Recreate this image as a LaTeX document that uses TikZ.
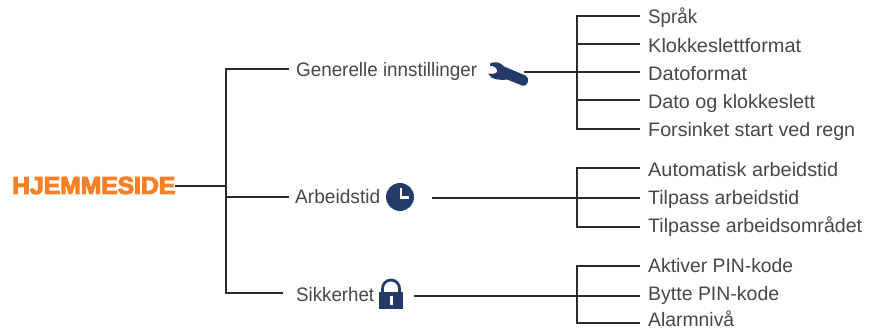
\documentclass[tikz,border=0pt]{standalone}
\usepackage{fontspec}
\setmainfont{Liberation Sans}
\newfontfamily\heavyfont[FakeBold=4.5]{Liberation Sans Bold}
\newcommand{\fitwide}[2]{\resizebox{#1pt}{\height}{#2}}
\definecolor{ink}{HTML}{47474A}
\definecolor{wire}{HTML}{2B2B2B}
\definecolor{navy}{HTML}{243A69}
\definecolor{brand}{HTML}{F58025}
\tikzset{
  label/.style={anchor=base west,inner sep=0pt,text=ink,font=\fontsize{19.5}{22}\selectfont},
  wire/.style={draw=wire,line width=1.4pt},
  icon/.style={fill=navy,draw=none},
}
\begin{document}
\begin{tikzpicture}[x=1pt,y=-1pt]
\useasboundingbox (0,0) rectangle (872,329);
% root
\node[anchor=west,inner sep=0pt,text=brand] (root) at (12,185.5)
  {\resizebox{163pt}{17pt}{\heavyfont HJEMMESIDE}};
% second level
\node[label] (gen) at (296,77) {\fitwide{181}{Generelle innstillinger}};
\node[label] (arb) at (295,203.5) {\fitwide{85}{Arbeidstid}};
\node[label] (sik) at (296,301.5) {\fitwide{78}{Sikkerhet}};
% leaves
\node[label] (a1) at (648,24) {\fitwide{49}{Språk}};
\node[label] (a2) at (648,52.5) {\fitwide{153}{Klokkeslettformat}};
\node[label] (a3) at (648,80.5) {\fitwide{99}{Datoformat}};
\node[label] (a4) at (648,108.5) {\fitwide{167}{Dato og klokkeslett}};
\node[label] (a5) at (648,136) {\fitwide{207}{Forsinket start ved regn}};
\node[label] (b1) at (648,176.5) {\fitwide{190}{Automatisk arbeidstid}};
\node[label] (b2) at (648,204.5) {\fitwide{151}{Tilpass arbeidstid}};
\node[label] (b3) at (648,232.5) {\fitwide{214}{Tilpasse arbeidsområdet}};
\node[label] (c1) at (648,272.5) {\fitwide{145}{Aktiver PIN-kode}};
\node[label] (c2) at (648,300.5) {\fitwide{131}{Bytte PIN-kode}};
\node[label] (c3) at (648,326.4) {\fitwide{86}{Alarmnivå}};
% wrench
\node[inner sep=0pt,minimum size=0pt] (wrench) at (507,74) {};
\fill[icon] (490,63.5) .. controls (494,61.5) and (500,61.5) .. (504,66.5)
  -- (525.5,75.5) .. controls (530,77.5) and (528.5,87.5) .. (522,85.5)
  -- (507,79.5) .. controls (501,80.5) and (491,80) .. (488,73.5)
  .. controls (491,74.5) and (495,74) .. (497,72)
  .. controls (498,69.5) and (495,65.5) .. (490,65.8) -- cycle;
% clock
\node[circle,fill=navy,inner sep=0pt,minimum size=28pt] (clock) at (400,197) {};
\draw[white,line width=2.4pt] (401,188) -- (401,197.5) -- (408.5,197.5);
% lock
\node[icon,inner sep=0pt,minimum width=24pt,minimum height=17.5pt] (lock) at (391,300.5) {};
\draw[navy,line width=2.8pt] (382.5,292) -- (382.5,288.5) arc[start angle=180,end angle=0,x radius=8.5,y radius=-8.5] -- (399.5,292);
\fill[white] (389.5,296) rectangle (393,305);
% junctions and free ends
\coordinate (hubtop) at (226,69);
\coordinate (hubroot) at (226,186);
\coordinate (hubarb) at (226,197);
\coordinate (hubsik) at (226,293);
\coordinate (genend) at (289,69);
\coordinate (arbend) at (289,197);
\coordinate (sikend) at (283,293);
\coordinate (wstart) at (524,72);
\coordinate (cstart) at (432,198);
\coordinate (lstart) at (414,296);
% first bracket
\draw[wire] (root.east |- hubroot) -- (hubroot);
\draw[wire] (genend) -- (hubtop) -- (hubsik) -- (sikend);
\draw[wire] (hubarb) -- (arbend);
% group brackets
\foreach \n/\y in {a1/16,a2/44,a3/72,a4/100,a5/129,b1/168,b3/227,c1/266,c3/323}{
  \coordinate (\n end) at (640,\y);
  \coordinate (\n bus) at (577,\y);
}
\coordinate (busgen) at (577,72);
\coordinate (tipgen) at (640,72);
\coordinate (busarb) at (577,198);
\coordinate (tiparb) at (640,198);
\coordinate (bussik) at (577,296);
\coordinate (tipsik) at (640,296);
\draw[wire] (a1end) -- (a1bus) -- (a5bus) -- (a5end);
\draw[wire] (a2bus) -- (a2end);
\draw[wire] (a4bus) -- (a4end);
\draw[wire] (wstart) -- (busgen) -- (tipgen);
\draw[wire] (b1end) -- (b1bus) -- (b3bus) -- (b3end);
\draw[wire] (cstart) -- (busarb) -- (tiparb);
\draw[wire] (c1end) -- (c1bus) -- (c3bus) -- (c3end);
\draw[wire] (lstart) -- (bussik) -- (tipsik);
\end{tikzpicture}
\end{document}
